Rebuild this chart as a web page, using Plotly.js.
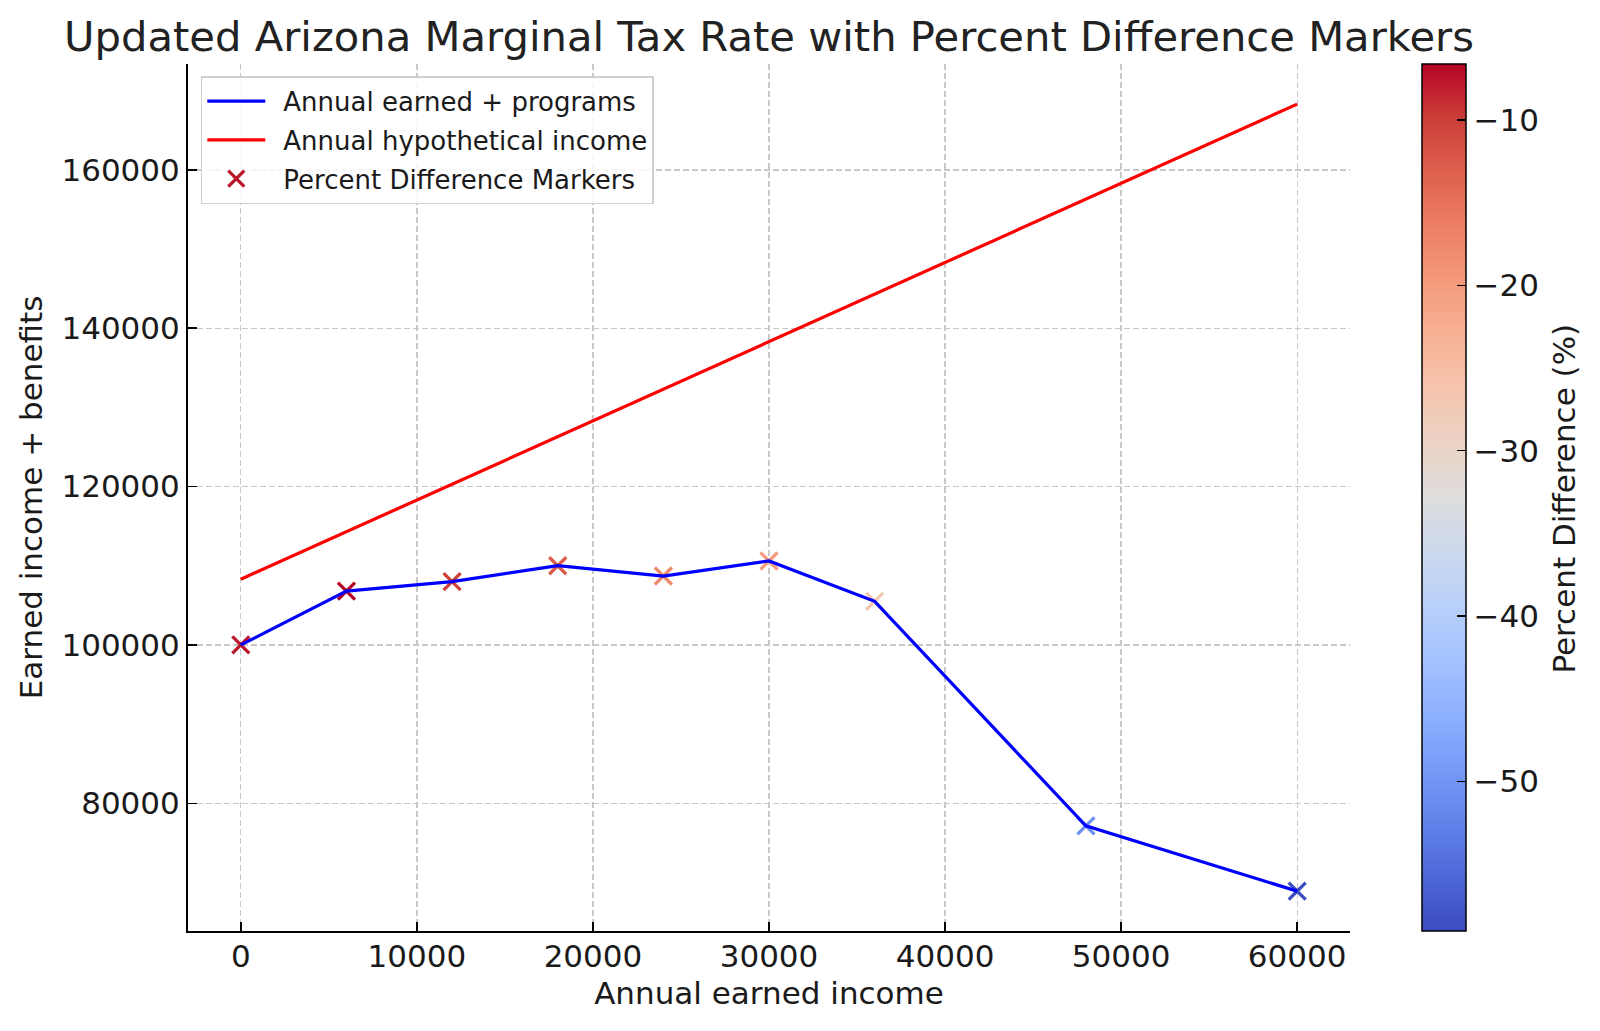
<!DOCTYPE html>
<html>
<head>
<meta charset="utf-8">
<script src="https://cdn.plot.ly/plotly-3.0.1.min.js"></script>
<style>html,body{margin:0;padding:0;background:#fff;}#chart{width:1600px;height:1031px;}</style>
</head>
<body>
<div id="chart"></div>
<script>
// Data
const earnedIncome = [0, 6000, 12000, 18000, 24000, 30000, 36000, 48000, 60000];
const earnedPlusPrograms = [100000, 106800, 108000, 110000, 108700, 110600, 105500, 77150, 68900];
const hypotheticalIncome = [108300, 114300, 120300, 126300, 132300, 138300, 144300, 156300, 168300];
const percentDifference = [-7.66, -6.6, -10.2, -12.9, -17.8, -20.0, -26.9, -50.6, -59.06];
const xTicks = [0, 10000, 20000, 30000, 40000, 50000, 60000];
const yTicks = [80000, 100000, 120000, 140000, 160000];
const cbTicks = [-50, -40, -30, -20, -10];

const coolwarm = [
  [0.0, 'rgb(59,76,192)'], [0.0625, 'rgb(77,104,215)'], [0.125, 'rgb(98,130,234)'],
  [0.1875, 'rgb(119,154,247)'], [0.25, 'rgb(141,176,254)'], [0.3125, 'rgb(163,194,255)'],
  [0.375, 'rgb(184,208,249)'], [0.4375, 'rgb(204,217,238)'], [0.5, 'rgb(221,221,221)'],
  [0.5625, 'rgb(236,211,197)'], [0.625, 'rgb(245,196,173)'], [0.6875, 'rgb(247,177,148)'],
  [0.75, 'rgb(244,154,123)'], [0.8125, 'rgb(236,127,99)'], [0.875, 'rgb(222,96,77)'],
  [0.9375, 'rgb(203,62,56)'], [1.0, 'rgb(180,4,38)']
];

const FONT = 'DejaVu Sans, sans-serif';
const TXT = '#1a1a1a';
const SP = '\u2002';
const pMin = Math.min(...percentDifference), pMax = Math.max(...percentDifference);

const traces = [
  {
    x: earnedIncome, y: earnedPlusPrograms, type: 'scatter', mode: 'markers',
    name: SP + 'Percent Difference Markers', legendrank: 3, legendgroup: 'g3',
    marker: {
      symbol: 'x-thin', size: 17,
      color: percentDifference, colorscale: coolwarm, cmin: pMin, cmax: pMax,
      line: {width: 3.3, color: percentDifference, colorscale: coolwarm, cmin: pMin, cmax: pMax},
      colorbar: {
        x: 1.0619, xanchor: 'left', xpad: 0, y: 0.5, yanchor: 'middle', ypad: 0,
        len: 1, lenmode: 'fraction', thickness: 44, thicknessmode: 'pixels',
        outlinecolor: '#000', outlinewidth: 1.5,
        tickvals: cbTicks, ticks: 'inside', ticklen: 9, tickwidth: 1.5, tickcolor: '#000',
        tickfont: {family: FONT, size: 31, color: TXT}
      }
    }
  },
  {
    x: earnedIncome, y: earnedPlusPrograms, type: 'scatter', mode: 'lines',
    name: SP + 'Annual earned + programs', legendrank: 1, legendgroup: 'g1',
    line: {color: '#0000ff', width: 3.2}
  },
  {
    x: earnedIncome, y: hypotheticalIncome, type: 'scatter', mode: 'lines',
    name: SP + 'Annual hypothetical income', legendrank: 2, legendgroup: 'g2',
    line: {color: '#ff0000', width: 3.2}
  }
];

const layout = {
  width: 1600, height: 1031,
  paper_bgcolor: '#fff', plot_bgcolor: '#fff',
  margin: {l: 188, r: 250, t: 64, b: 100},
  font: {family: FONT, color: TXT},
  title: {
    text: 'Updated Arizona Marginal Tax Rate with Percent Difference Markers',
    font: {family: FONT, size: 41.7, color: '#222'},
    x: 0.5, xref: 'paper', y: 1 - 36 / 1031, yref: 'container', yanchor: 'middle'
  },
  xaxis: {
    range: [-3000, 63000], tickvals: xTicks, tickformat: 'd',
    showline: true, linecolor: '#000', linewidth: 2, mirror: false,
    ticks: 'inside', ticklen: 9, tickwidth: 1.5, tickcolor: '#000',
    ticklabelstandoff: -3,
    tickfont: {family: FONT, size: 31, color: TXT},
    showgrid: true, gridcolor: '#c8c8c8', gridwidth: 1.3, griddash: '6px,3px',
    zeroline: false, automargin: true,
    title: {text: 'Annual earned income', font: {family: FONT, size: 31, color: TXT}, standoff: 9}
  },
  yaxis: {
    range: [63866, 173370], tickvals: yTicks, tickformat: 'd',
    showline: true, linecolor: '#000', linewidth: 2, mirror: false,
    ticks: 'inside', ticklen: 9, tickwidth: 1.5, tickcolor: '#000',
    ticklabelstandoff: 0,
    tickfont: {family: FONT, size: 31, color: TXT},
    showgrid: true, gridcolor: '#c8c8c8', gridwidth: 1.3, griddash: '6px,3px',
    zeroline: false, automargin: true,
    title: {text: 'Earned income + benefits', font: {family: FONT, size: 31, color: TXT}, standoff: 10}
  },
  legend: {
    x: 0.011, xanchor: 'left', y: 0.986, yanchor: 'top',
    bgcolor: 'rgba(255,255,255,0.85)', bordercolor: '#d0d0d0', borderwidth: 1.5,
    font: {family: FONT, size: 26, color: TXT},
    traceorder: 'grouped', tracegroupgap: 2, itemwidth: 58
  },
  annotations: [{
    text: 'Percent Difference (%)', textangle: -90, showarrow: false,
    xref: 'paper', yref: 'paper', x: 1.184, y: 0.4985, xanchor: 'center', yanchor: 'middle',
    font: {family: FONT, size: 31, color: TXT}
  }],
  showlegend: true
};

Plotly.newPlot('chart', traces, layout, {displayModeBar: false, staticPlot: true});
</script>
</body>
</html>
